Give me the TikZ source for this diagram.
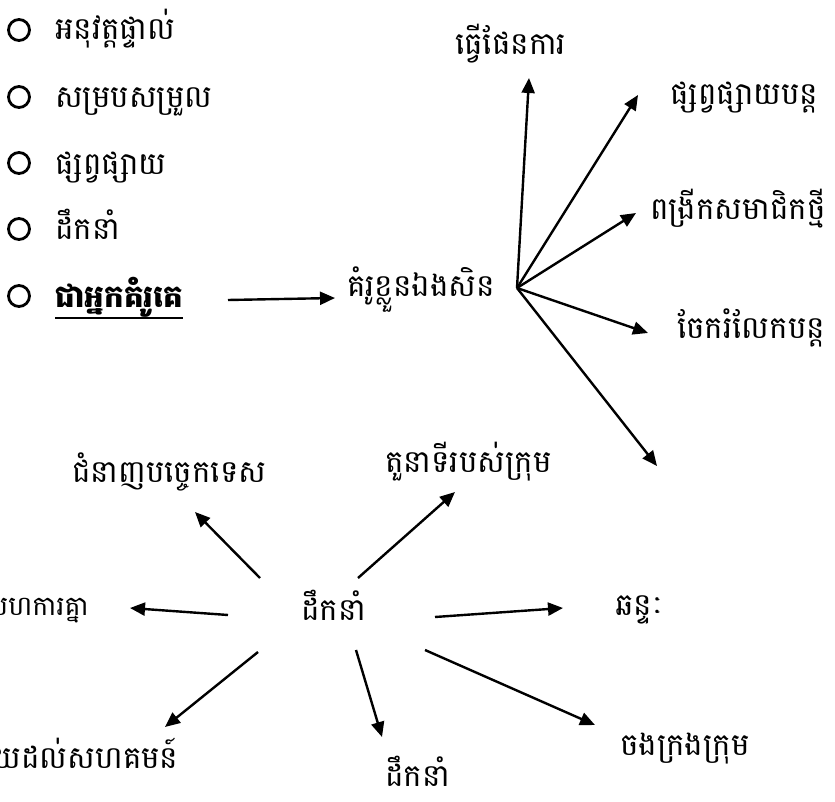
\documentclass[tikz,border=0pt]{standalone}
\usepackage{fontspec}
\newfontfamily\kh[Script=Khmer]{Battambang}
\usetikzlibrary{arrows.meta}
\begin{document}
\begin{tikzpicture}[x=1pt,y=-1pt,
 lbl/.style={anchor=base west,inner sep=0pt,font=\kh\fontsize{31}{36}\selectfont},
 slbl/.style={anchor=base west,inner sep=0pt,font=\kh\fontsize{27}{32}\selectfont},
 blbl/.style={lbl,font=\kh\bfseries\fontsize{31}{36}\selectfont},
 arr/.style={line width=2.4pt,-{Triangle[length=15pt,width=13pt]}},
 bullet/.style={circle,draw,line width=2.8pt,minimum size=21pt,inner sep=0pt}]
\useasboundingbox (0,0) rectangle (835,802);
\clip (0,0) rectangle (835,802);
% bullets list
\node[bullet] (b1) at (19,30) {};
\node[bullet] (b2) at (19,97) {};
\node[bullet] (b3) at (19,163) {};
\node[bullet] (b4) at (19,229) {};
\node[bullet] (b5) at (19,296) {};
\node[lbl] (i1) at (55,40) {អនុវត្តផ្ទាល់};
\node[lbl] (i2) at (55,108) {សម្របសម្រួល};
\node[lbl] (i3) at (55,175) {ផ្សព្វផ្សាយ};
\node[lbl] (i4) at (55,240) {ដឹកនាំ};
\node[blbl] (i5) at (55,308) {ជាអ្នកគំរូគេ};
\draw[line width=1.8pt] ([yshift=-10pt]i5.base west) -- ([yshift=-10pt]i5.base east);
% centre
\node[lbl] (c) at (347,297) {គំរូខ្លួនឯងសិន};
\coordinate (a5s) at (228,300);
\coordinate (a5e) at (335,298);
\draw[arr] (a5s) -- (a5e);
\coordinate (hub) at (517,288);
\node[lbl] (r1) at (455,55) {ធ្វើផែនការ};
\node[lbl] (r2) at (670,105) {ផ្សព្វផ្សាយបន្ត};
\node[lbl] (r3) at (650,220) {ពង្រីកសមាជិកថ្មី};
\node[lbl] (r4) at (677,338) {ចែករំលែកបន្ត};
\coordinate (t1) at (529,78);
\coordinate (t2) at (638,95);
\coordinate (t3) at (636,213);
\coordinate (t4) at (648,333);
\coordinate (t5) at (657,466);
\foreach \t in {t1,t2,t3,t4,t5} \draw[arr] (hub) -- (\t);
% bottom star
\node[lbl] (s1) at (72,482) {ជំនាញបច្ចេកទេស};
\node[lbl] (s2) at (385,472) {តួនាទីរបស់ក្រុម};
\node[lbl] (d) at (301,620) {ដឹកនាំ};
\node[slbl] (s3) at (-16,615) {សហការគ្នា};
\node[lbl] (s4) at (615,615) {ឆន្ទៈ};
\node[lbl] (s5) at (-25,768) {ជួយដល់សហគមន៍};
\node[lbl] (s6) at (385,786) {ដឹកនាំ};
\node[lbl] (s7) at (620,755) {ចងក្រងក្រុម};
\coordinate (u1s) at (260,578); \coordinate (u1e) at (195,512);
\coordinate (u2s) at (358,578); \coordinate (u2e) at (455,492);
\coordinate (u3s) at (228,615); \coordinate (u3e) at (130,608);
\coordinate (u4s) at (435,617); \coordinate (u4e) at (563,608);
\coordinate (u5s) at (258,652); \coordinate (u5e) at (165,727);
\coordinate (u6s) at (356,650); \coordinate (u6e) at (382,737);
\coordinate (u7s) at (425,650); \coordinate (u7e) at (595,725);
\foreach \i in {1,...,7} \draw[arr] (u\i s) -- (u\i e);
\end{tikzpicture}
\end{document}
